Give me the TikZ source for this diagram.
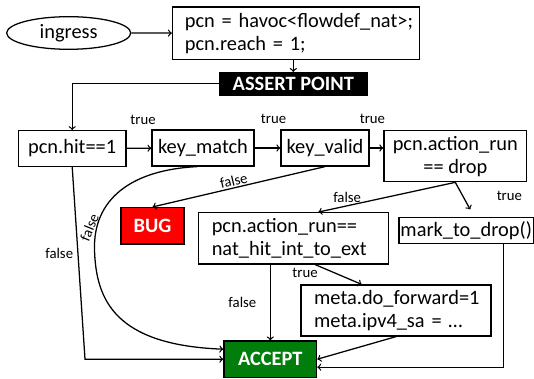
\documentclass[tikz,border=0pt]{standalone}
\usepackage{fontspec}
\setmainfont{Carlito}
\usetikzlibrary{shapes.geometric}
\definecolor{bugred}{RGB}{255,0,0}
\definecolor{acceptgreen}{RGB}{0,125,10}

\begin{document}
\begin{tikzpicture}[x=0.025cm, y=-0.025cm,
	box/.style={draw, line width=0.9pt, inner sep=0pt, align=center, font=\fontsize{14.5}{16.5}\selectfont},
	codebox/.style={box, align=left, inner ysep=0pt},
	tagbox/.style={box, text=white, font=\fontsize{14.5}{16.5}\selectfont\bfseries},
	lbl/.style={inner sep=1pt, font=\fontsize{10.5}{12}\selectfont},
	flow/.style={->, line width=0.9pt}]
	\useasboundingbox (0,0) rectangle (534,379);

	% top: entry and initialisation
	\node[box, ellipse, minimum width=3.1cm, minimum height=0.815cm] (ingress) at (68.7,33) {ingress};
	\node[codebox, minimum height=1.31cm, inner xsep=0.31cm, text width=5.555cm] (init) at (296,33.2)
		{\mbox{pcn = havoc<flowdef\_nat>;}\\ \mbox{pcn.reach = 1;}};
	\node[tagbox, fill=black, minimum width=3.7cm, minimum height=0.56cm] (assert) at (293.3,83.8) {ASSERT POINT};

	% row of checks
	\node[box, minimum width=2.69cm, minimum height=0.89cm] (hit) at (72.2,148.5) {pcn.hit==1};
	\node[box, minimum width=2.55cm, minimum height=0.9cm] (match) at (203,148) {key\_match};
	\node[box, minimum width=2.2cm, minimum height=0.9cm] (valid) at (325,148) {key\_valid};
	\node[box, minimum width=3.57cm, minimum height=1.275cm] (drop) at (455.3,156.2) {pcn.action\_run\\ == drop};

	% lower part
	\node[tagbox, fill=bugred, minimum width=1.575cm, minimum height=0.91cm] (bug) at (152.5,225.8) {BUG};
	\node[codebox, minimum height=1.28cm, inner xsep=0.335cm, text width=4.08cm] (nat) at (293.4,238.3)
		{\mbox{pcn.action\_run==}\\ \mbox{nat\_hit\_int\_to\_ext}};
	\node[box, minimum width=3.36cm, minimum height=0.65cm] (mark) at (466.2,230.3) {mark\_to\_drop()};
	\node[codebox, minimum height=1.275cm, inner xsep=0.33cm, text width=4.09cm] (meta) at (396,310.5)
		{\mbox{meta.do\_forward=1}\\ \mbox{meta.ipv4\_sa = \dots}};
	\node[tagbox, fill=acceptgreen, minimum width=2.32cm, minimum height=0.91cm] (accept) at (270.3,359.2) {ACCEPT};

	\coordinate (hitbend) at (85,359.2);

	\draw[flow] (ingress) -- (init);
	\draw[flow] (assert.north |- init.south) -- (assert.north);
	\draw[flow] (assert.west) -| (hit.north);

	\draw[flow] (hit) -- node[lbl, above=0.55cm, xshift=0.1cm] {true} (match);
	\draw[flow] (match) -- node[lbl, above=0.55cm, xshift=0.15cm] {true} (valid);
	\draw[flow] (valid.east) -- node[lbl, above=0.55cm, xshift=-0.1cm] {true} (valid.east -| drop.west);

	% false branches
	\draw[flow] (hit.south) -- node[lbl, pos=0.45, left=2pt] {false} (hitbend) -- (accept.west);
	\draw[flow] ([xshift=-0.15cm]match.south) .. controls (130,170) and (93,200) .. (94.5,250)
		node[lbl, pos=0.86, above, rotate=68] {false}
		.. controls (96,300) and (115,345) .. ([yshift=0.25cm]accept.west);
	\draw[flow] (valid.south) -- node[lbl, pos=0.52, sloped, above] {false} (bug.north);
	\draw[flow] (drop.south) -- node[lbl, pos=0.79, above=1pt] {false} ([xshift=0.625cm]nat.north);
	\draw[flow] (drop.south) -- node[lbl, midway, right=0.8cm] {true} ([xshift=0.1cm, yshift=0.18cm]mark.north);

	\draw[flow] (nat.south -| accept.north) -- node[lbl, midway, left=0.3cm] {false} (accept.north);
	\draw[flow] ([xshift=0.54cm]nat.south) -- node[lbl, pos=0.1, below left=0pt] {true} ([xshift=-0.86cm]meta.north);
	\draw[flow] (meta.south) -- (accept.east);
	\draw[flow] ([xshift=0.93cm]mark.south) |- ([yshift=-0.2cm]accept.east);
\end{tikzpicture}
\end{document}
